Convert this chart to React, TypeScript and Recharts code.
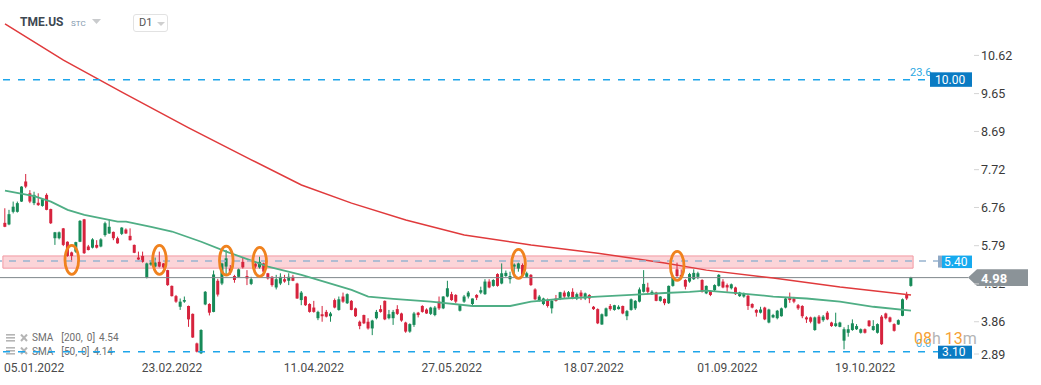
import { Bar, ComposedChart, Line, ReferenceArea, ReferenceDot, ReferenceLine, XAxis, YAxis } from 'recharts'

// daily candles [open, high, low, close]
const candles: [number, number, number, number][] = [
  [6.37, 6.74, 6.26, 6.27], [6.33, 6.7, 6.31, 6.59], [6.65, 6.91, 6.61, 6.78], [6.65, 6.91, 6.63, 6.87],
  [6.91, 7.3, 6.9, 7.29], [7.42, 7.61, 7.25, 7.29], [7.12, 7.2, 6.87, 6.91], [6.87, 7.16, 6.82, 7.08],
  [6.88, 7.12, 6.8, 6.82], [6.8, 6.99, 6.78, 6.97], [7.08, 7.12, 6.69, 6.7], [6.72, 6.73, 6.34, 6.36],
  [5.98, 6.14, 5.81, 6.13], [5.98, 6.15, 5.95, 6.13], [6.23, 6.24, 5.78, 5.81], [5.89, 5.9, 5.51, 5.53],
  [5.62, 5.64, 5.38, 5.53], [5.64, 5.89, 5.61, 5.88], [5.89, 6.44, 5.88, 6.42], [6.46, 6.47, 5.58, 5.6],
  [5.77, 5.81, 5.67, 5.68], [5.74, 5.98, 5.72, 5.95], [5.81, 5.93, 5.72, 5.74], [5.77, 5.98, 5.75, 5.95],
  [6.06, 6.4, 6.02, 6.36], [6.1, 6.46, 6.09, 6.27], [6.14, 6.15, 5.93, 5.98], [5.98, 6.02, 5.84, 5.85],
  [6.09, 6.26, 6.06, 6.25], [6.2, 6.23, 6.09, 6.1], [6.04, 6.23, 5.92, 5.93], [5.81, 5.82, 5.6, 5.61],
  [5.49, 5.64, 5.43, 5.44], [5.53, 5.64, 5.36, 5.38], [4.98, 5.36, 4.96, 5.34], [5.31, 5.42, 5.28, 5.36],
  [5.26, 5.49, 5.24, 5.36], [5.38, 5.64, 5.24, 5.26], [5.34, 5.35, 5.21, 5.24], [5.17, 5.18, 4.77, 4.79],
  [4.77, 4.78, 4.5, 4.51], [4.51, 4.54, 4.34, 4.37], [4.24, 4.45, 4.16, 4.37], [4.37, 4.5, 4.34, 4.41],
  [4.26, 4.27, 3.73, 3.92], [4.06, 4.07, 3.45, 3.46], [3.31, 3.33, 3.08, 3.1], [3.06, 3.67, 3.04, 3.65],
  [4.3, 4.64, 4.28, 4.62], [4.31, 4.33, 4.02, 4.09], [4.11, 5.16, 4.1, 5.06], [4.9, 4.95, 4.5, 4.55],
  [4.83, 5.36, 4.79, 5.34], [5.26, 5.68, 5.03, 5.47], [5.21, 5.3, 5.05, 5.13], [5.02, 5.05, 4.85, 4.92],
  [5.0, 5.21, 4.99, 5.19], [5.38, 5.49, 5.21, 5.24], [5.02, 5.17, 4.79, 4.96], [4.82, 5.0, 4.79, 4.94],
  [5.33, 5.38, 5.21, 5.26], [5.24, 5.51, 5.21, 5.38], [5.34, 5.36, 5.02, 5.13], [5.09, 5.1, 4.93, 4.96],
  [5.0, 5.02, 4.75, 4.79], [4.73, 5.05, 4.68, 4.94], [4.83, 5.09, 4.79, 5.0], [4.94, 5.05, 4.85, 4.88],
  [4.9, 5.09, 4.79, 5.0], [5.0, 5.05, 4.89, 4.9], [4.83, 4.85, 4.44, 4.45], [4.41, 4.64, 4.28, 4.6],
  [4.5, 4.51, 4.26, 4.28], [4.31, 4.33, 4.09, 4.11], [4.22, 4.39, 4.09, 4.11], [3.95, 4.14, 3.9, 4.11],
  [4.05, 4.26, 3.86, 4.0], [4.11, 4.16, 3.97, 3.99], [4.0, 4.11, 3.86, 4.07], [4.41, 4.45, 4.2, 4.22],
  [4.16, 4.5, 4.14, 4.43], [4.5, 4.6, 4.34, 4.37], [4.33, 4.58, 4.31, 4.56], [4.39, 4.41, 4.15, 4.16],
  [4.2, 4.22, 3.98, 4.0], [3.86, 3.89, 3.67, 3.75], [4.03, 4.04, 3.8, 3.82], [3.86, 3.95, 3.66, 3.69],
  [3.69, 3.91, 3.52, 3.89], [3.95, 4.16, 3.92, 4.11], [4.18, 4.28, 4.09, 4.11], [4.39, 4.4, 3.9, 3.92],
  [3.95, 4.16, 3.92, 4.05], [3.95, 4.16, 3.78, 4.11], [4.18, 4.28, 4.03, 4.06], [4.07, 4.09, 3.86, 3.89],
  [3.84, 3.86, 3.58, 3.61], [3.61, 3.82, 3.58, 3.8], [3.78, 4.11, 3.73, 4.07], [4.09, 4.11, 3.97, 4.03],
  [4.26, 4.28, 4.09, 4.11], [4.17, 4.2, 4.06, 4.07], [4.06, 4.24, 4.03, 4.22], [4.03, 4.26, 4.0, 4.22],
  [4.37, 4.5, 4.16, 4.2], [4.2, 4.51, 4.18, 4.5], [4.5, 4.9, 4.48, 4.71], [4.56, 4.62, 4.39, 4.41],
  [4.54, 4.56, 4.33, 4.37], [4.14, 4.31, 4.12, 4.28], [4.37, 4.54, 4.34, 4.5], [4.5, 4.64, 4.45, 4.6],
  [4.31, 4.45, 4.28, 4.45], [4.54, 4.56, 4.41, 4.47], [4.6, 4.75, 4.56, 4.66], [4.56, 4.94, 4.54, 4.88],
  [4.88, 4.94, 4.71, 4.73], [4.77, 4.94, 4.75, 4.92], [5.07, 5.09, 4.75, 4.77], [4.83, 5.34, 4.81, 5.09],
  [5.02, 5.16, 5.0, 5.1], [4.94, 5.13, 4.83, 5.02], [5.26, 5.34, 5.0, 5.31], [5.21, 5.36, 5.13, 5.34],
  [5.3, 5.34, 5.0, 5.05], [5.0, 5.13, 4.98, 5.09], [5.05, 5.07, 4.77, 4.79], [4.68, 4.71, 4.41, 4.43],
  [4.39, 4.54, 4.37, 4.5], [4.31, 4.47, 4.28, 4.45], [4.41, 4.45, 4.22, 4.26], [4.2, 4.41, 4.07, 4.39],
  [4.45, 4.54, 4.37, 4.39], [4.45, 4.62, 4.41, 4.61], [4.6, 4.65, 4.45, 4.5], [4.5, 4.64, 4.47, 4.61],
  [4.62, 4.71, 4.43, 4.45], [4.45, 4.6, 4.41, 4.56], [4.6, 4.66, 4.41, 4.5], [4.45, 4.6, 4.41, 4.58],
  [4.54, 4.56, 4.33, 4.45], [4.24, 4.26, 4.16, 4.18], [4.18, 4.2, 3.8, 3.82], [3.79, 4.07, 3.78, 4.05],
  [4.0, 4.22, 3.99, 4.2], [4.26, 4.31, 4.14, 4.18], [4.16, 4.29, 4.14, 4.28], [4.18, 4.28, 4.17, 4.24],
  [4.26, 4.27, 4.05, 4.07], [4.0, 4.16, 3.9, 4.13], [4.16, 4.45, 4.14, 4.43], [4.2, 4.41, 4.16, 4.39],
  [4.37, 4.73, 4.35, 4.68], [4.62, 5.17, 4.6, 4.82], [4.73, 4.85, 4.56, 4.62], [4.56, 4.66, 4.54, 4.62],
  [4.6, 4.62, 4.38, 4.39], [4.39, 4.51, 4.37, 4.5], [4.44, 4.45, 4.28, 4.33], [4.33, 4.78, 4.31, 4.77],
  [4.77, 5.05, 4.75, 5.0], [5.19, 5.36, 5.0, 5.02], [5.05, 5.19, 4.94, 4.98], [4.92, 4.94, 4.68, 4.75],
  [4.88, 5.1, 4.85, 5.07], [4.94, 5.19, 4.92, 5.1], [5.0, 5.13, 4.94, 5.09], [4.92, 4.94, 4.6, 4.62],
  [4.58, 4.78, 4.56, 4.77], [4.64, 4.66, 4.51, 4.54], [4.66, 4.81, 4.62, 4.79], [4.77, 5.07, 4.75, 5.05],
  [4.88, 4.94, 4.71, 4.73], [4.79, 4.83, 4.62, 4.73], [4.71, 4.83, 4.68, 4.81], [4.73, 4.75, 4.54, 4.56],
  [4.51, 4.62, 4.49, 4.6], [4.5, 4.6, 4.47, 4.58], [4.52, 4.54, 4.16, 4.26], [4.31, 4.33, 4.2, 4.22],
  [4.16, 4.18, 3.99, 4.09], [4.09, 4.24, 4.07, 4.17], [4.22, 4.24, 3.9, 3.92], [3.84, 4.19, 3.82, 4.17],
  [3.97, 4.06, 3.95, 4.03], [3.95, 4.16, 3.92, 4.14], [4.0, 4.22, 3.99, 4.2], [4.22, 4.47, 4.2, 4.45],
  [4.49, 4.6, 4.34, 4.41], [4.45, 4.49, 4.33, 4.37], [4.28, 4.31, 4.16, 4.2], [4.26, 4.28, 3.95, 4.0],
  [3.97, 4.0, 3.83, 3.92], [3.97, 3.99, 3.82, 3.86], [3.65, 3.99, 3.63, 3.97], [3.99, 4.03, 3.8, 3.82],
  [3.9, 4.03, 3.86, 3.99], [4.09, 4.13, 3.9, 3.92], [3.84, 3.86, 3.73, 3.75], [3.75, 4.09, 3.73, 3.82],
  [3.73, 3.86, 3.72, 3.84], [3.38, 3.72, 3.16, 3.67], [3.58, 3.78, 3.48, 3.67], [3.65, 3.92, 3.63, 3.82],
  [3.67, 3.8, 3.65, 3.75], [3.58, 3.69, 3.56, 3.67], [3.67, 3.69, 3.56, 3.58], [3.89, 3.9, 3.73, 3.75],
  [3.65, 3.9, 3.63, 3.75], [3.58, 3.82, 3.56, 3.8], [3.99, 4.03, 3.27, 3.29], [4.07, 4.09, 3.92, 3.95],
  [3.97, 3.99, 3.84, 3.86], [3.8, 3.82, 3.61, 3.63], [3.79, 3.92, 3.78, 3.9], [4.01, 4.45, 4.0, 4.43],
  [4.56, 4.62, 4.41, 4.45], [4.77, 5.0, 4.75, 4.99],
]

// moving averages, sampled at candle index
const sma200Points: [number, number][] = [
  [0, 11.42], [14, 10.5], [28, 9.69], [44, 8.78], [59, 7.97], [71, 7.33], [83, 6.87], [96, 6.44],
  [110, 6.06], [126, 5.81], [142, 5.6], [158, 5.35], [168, 5.17], [184, 4.97], [200, 4.74], [217, 4.54],
]
const sma50Points: [number, number][] = [
  [0, 7.19], [7, 7.05], [11, 6.91], [15, 6.7], [19, 6.57], [27, 6.4], [29, 6.4], [35, 6.27], [40, 6.15],
  [47, 5.89], [53, 5.64], [63, 5.26], [71, 5.05], [75, 4.92], [83, 4.67], [87, 4.5], [93, 4.44],
  [102, 4.37], [112, 4.26], [121, 4.26], [126, 4.37], [134, 4.45], [142, 4.5], [150, 4.54], [158, 4.59],
  [164, 4.62], [168, 4.65], [176, 4.58], [184, 4.5], [192, 4.45], [200, 4.37], [208, 4.24], [217, 4.14],
]

const dateTicks: [number, string][] = [
  [7, '05.01.2022'], [40, '23.02.2022'], [74, '11.04.2022'], [107, '27.05.2022'],
  [141, '18.07.2022'], [173, '01.09.2022'], [206, '19.10.2022'],
]
const priceTicks = [2.89, 3.86, 4.82, 5.79, 6.76, 7.72, 8.69, 9.65, 10.62]

// candles circled on the chart: [index, price]
const circled: [number, number][] = [[16, 5.43], [37, 5.43], [53, 5.41], [61, 5.38], [123, 5.33], [161, 5.28]]

const fibTop = 10.0
const fibBottom = 3.1
const zoneHigh = 5.53
const zoneLow = 5.22
const zoneLevel = 5.4
const lastPrice = 4.98
const sma200Last = 4.54
const sma50Last = 4.14

const s200 = new Map(sma200Points)
const s50 = new Map(sma50Points)
const dateMap = new Map(dateTicks)

const data = candles.map(([o, h, l, c], i) => ({
  i,
  o,
  h,
  l,
  c,
  range: [l, h],
  sma200: s200.get(i) ?? null,
  sma50: s50.get(i) ?? null,
}))

const Candle = (props: any) => {
  const { x, y, width, height, payload } = props
  if (x == null || !payload) return <g />
  const { o, h, l, c } = payload
  const k = height / Math.max(h - l, 1e-6)
  const cx = x + width / 2
  const top = y + (h - Math.max(o, c)) * k
  const bot = y + (h - Math.min(o, c)) * k
  const color = c >= o ? '#178a58' : '#d6233d'
  return (
    <g>
      <line x1={cx} x2={cx} y1={y} y2={y + height} stroke={color} strokeWidth={1} />
      <rect x={cx - 1.5} y={top} width={3} height={Math.max(bot - top, 1)} fill={color} />
    </g>
  )
}

const DateTick = ({ x, payload }: any) => {
  const label = dateMap.get(payload.value)
  if (!label) return <g />
  return (
    <text x={x} y={372} textAnchor="middle" fontSize={12} fill="#4a4a4a">
      {label}
    </text>
  )
}

const PriceTick = ({ y, payload }: any) => {
  const yy = Math.min(y, 354)
  // the tick under the last-price tag only peeks out below it
  const hidden = Math.abs(payload.value - lastPrice) < 0.3
  const clipId = `tick-clip-${payload.value}`
  return (
    <g>
      {hidden && (
        <clipPath id={clipId}>
          <rect x={960} y={yy + 2.5} width={80} height={20} />
        </clipPath>
      )}
      <line x1={974} x2={979} y1={yy} y2={yy} stroke="#d4d4d4" />
      <text x={981} y={yy + 4.5} fontSize={12.5} fill="#3a3a3a" clipPath={hidden ? `url(#${clipId})` : undefined}>
        {payload.value.toFixed(2)}
      </text>
    </g>
  )
}

const FibTopLabel = ({ viewBox }: any) => {
  const y = viewBox.y
  return (
    <g>
      <text x={910} y={y - 4} fontSize={11} fill="#2aa8e2">23.6</text>
      <rect x={930} y={y - 7.5} width={42} height={14.5} fill="#0a7bc3" />
      <text x={935} y={y + 4.5} fontSize={12} fill="#fff">{fibTop.toFixed(2)}</text>
    </g>
  )
}

const FibBottomLabel = ({ viewBox }: any) => {
  const y = viewBox.y
  return (
    <g>
      <text x={916} y={y - 5} fontSize={11} fill="#4fb6ec">0.0</text>
      <rect x={938} y={y - 6} width={34} height={13} fill="#0a7bc3" />
      <text x={942} y={y + 4.5} fontSize={12} fill="#fff">{fibBottom.toFixed(2)}</text>
    </g>
  )
}

const ZoneLabel = ({ viewBox }: any) => {
  const y = viewBox.y
  return (
    <g>
      <rect x={938} y={y - 5.5} width={4} height={12} fill="#8fa9c6" />
      <rect x={942} y={y - 5.5} width={30} height={12.5} fill="#16aaef" />
      <text x={944} y={y + 5} fontSize={12} fill="#fff">{zoneLevel.toFixed(2)}</text>
    </g>
  )
}

const LastLabel = ({ viewBox }: any) => {
  const y = viewBox.y
  return (
    <g>
      <line x1={940} x2={968} y1={y} y2={y} stroke="#7f878c" />
      <polygon
        points={`968,${y} 977,${y - 8.3} 1028,${y - 8.3} 1028,${y + 8.3} 977,${y + 8.3}`}
        fill="#8b9398"
      />
      <text x={981} y={y + 5} fontSize={13} fontWeight="bold" fill="#fff">{lastPrice.toFixed(2)}</text>
    </g>
  )
}

const Ring = ({ cx, cy }: any) => (
  <ellipse cx={cx} cy={cy} rx={6.8} ry={14.5} fill="none" stroke="#f0821e" strokeWidth={2.8} />
)

const Icons = () => (
  <svg width={24} height={8} style={{ marginRight: 2 }}>
    <rect x={0} y={0} width={9} height={1.6} fill="#b5b5b5" />
    <rect x={0} y={3} width={9} height={1.6} fill="#b5b5b5" />
    <rect x={0} y={6} width={9} height={1.6} fill="#b5b5b5" />
    <path d="M15 0.5 L21 7 M21 0.5 L15 7" stroke="#b5b5b5" strokeWidth={2} />
  </svg>
)

const LegendRow = ({ period, value }: { period: number; value: number }) => (
  <div style={{ display: 'flex', alignItems: 'center', height: 13.5 }}>
    <Icons />
    <span>SMA</span>
    <span style={{ marginLeft: 8 }}>{`[${period},`}</span>
    <span style={{ marginLeft: 4 }}>0]</span>
    <span style={{ marginLeft: 4 }}>{value.toFixed(2)}</span>
  </div>
)

export default function App() {
  return (
    <div
      style={{
        position: 'fixed',
        left: 0,
        top: 0,
        width: 1041,
        height: 385,
        background: '#fff',
        fontFamily: 'Roboto, "Noto Sans", sans-serif',
        overflow: 'hidden',
      }}
    >
      <div style={{ position: 'absolute', left: 20, top: 15, fontSize: 12, fontWeight: 'bold', color: '#3e4852' }}>
        TME.US
      </div>
      <div style={{ position: 'absolute', left: 71, top: 19, fontSize: 8, color: '#8297ad' }}>STC</div>
      <svg style={{ position: 'absolute', left: 92, top: 19 }} width={9} height={5}>
        <path d="M0 0 L9 0 L4.5 5 Z" fill="#c9cbcd" />
      </svg>
      <div
        style={{
          position: 'absolute',
          left: 133,
          top: 14,
          width: 33,
          height: 16,
          border: '1px solid #e2e2e2',
          borderRadius: 3,
        }}
      >
        <span style={{ position: 'absolute', left: 5, top: 1, fontSize: 11, color: '#555' }}>D1</span>
        <svg style={{ position: 'absolute', left: 23, top: 7 }} width={8} height={4}>
          <path d="M0 0 L8 0 L4 4 Z" fill="#cfcfcf" />
        </svg>
      </div>
      <div style={{ position: 'absolute', left: 6, top: 331, fontSize: 10, color: '#6e6e6e' }}>
        <LegendRow period={200} value={sma200Last} />
        <LegendRow period={50} value={sma50Last} />
      </div>
      <div style={{ position: 'absolute', left: 0, top: 0 }}>
        <ComposedChart width={1041} height={385} data={data} margin={{ top: 0, right: 0, left: 0, bottom: 0 }}>
          <XAxis
            dataKey="i"
            type="category"
            height={25}
            interval={0}
            tickLine={false}
            axisLine={false}
            padding={{ left: 2.9, right: 26.9 }}
            tick={<DateTick />}
          />
          <YAxis
            orientation="right"
            type="number"
            width={101}
            domain={[2.889, 12.026]}
            ticks={priceTicks}
            interval={0}
            tickLine={false}
            axisLine={false}
            tick={<PriceTick />}
          />
          <ReferenceLine y={lastPrice} stroke="#7f878c" strokeWidth={1} label={<LastLabel />} />
          <Bar dataKey="range" shape={<Candle />} isAnimationActive={false} />
          <Line
            dataKey="sma200"
            type="linear"
            stroke="#e03a3c"
            strokeWidth={1.5}
            dot={false}
            activeDot={false}
            connectNulls
            isAnimationActive={false}
          />
          <Line
            dataKey="sma50"
            type="linear"
            stroke="#4fae85"
            strokeWidth={1.8}
            dot={false}
            activeDot={false}
            connectNulls
            isAnimationActive={false}
          />
          <ReferenceArea y1={zoneLow} y2={zoneHigh} fill="#f9b8be" fillOpacity={0.6} stroke="#f29aa3" strokeWidth={1} />
          <ReferenceLine y={zoneLevel} stroke="#98b4d0" strokeDasharray="7 7" strokeWidth={1.5} label={<ZoneLabel />} />
          <ReferenceLine y={fibTop} stroke="#1ea5ea" strokeDasharray="7 8" strokeWidth={1.5} label={<FibTopLabel />} />
          <ReferenceLine y={fibBottom} stroke="#1ea5ea" strokeDasharray="7 8" strokeWidth={1.5} label={<FibBottomLabel />} />
          {circled.map(([i, p]) => (
            <ReferenceDot key={i} x={i} y={p} shape={<Ring />} />
          ))}
        </ComposedChart>
      </div>
      <div style={{ position: 'absolute', left: 914, top: 329, fontSize: 16 }}>
        <span style={{ color: '#f6a135' }}>08</span>
        <span style={{ color: '#b4b4b4' }}>h</span>
        <span style={{ color: '#f6a135' }}> 13</span>
        <span style={{ color: '#b4b4b4' }}>m</span>
      </div>
    </div>
  )
}
